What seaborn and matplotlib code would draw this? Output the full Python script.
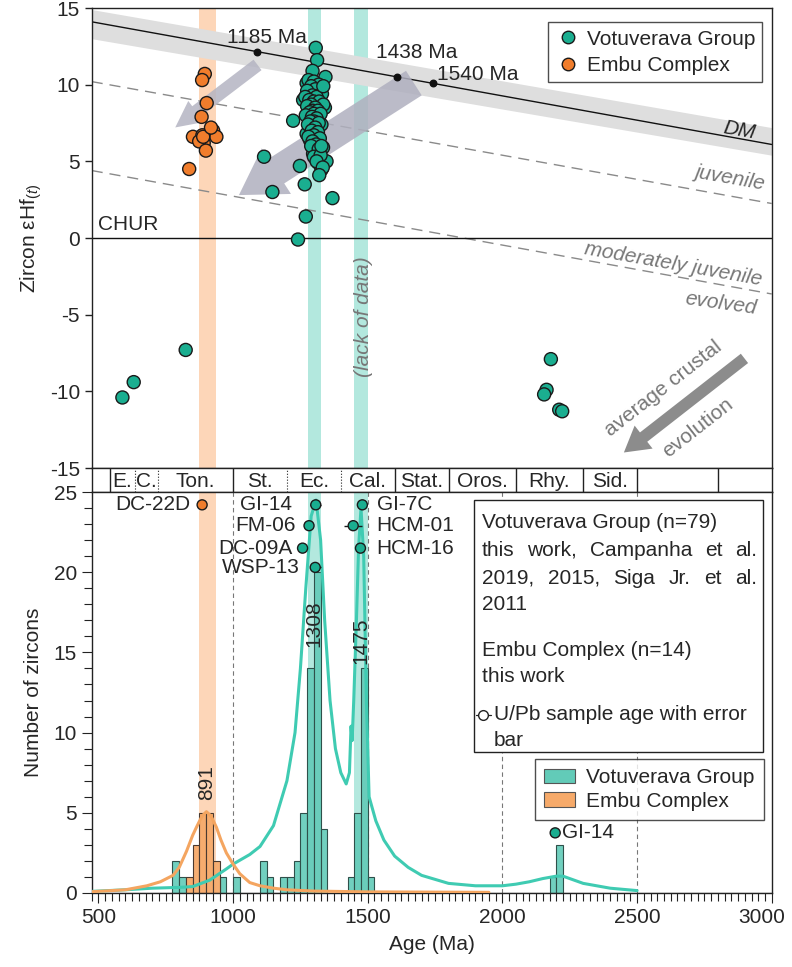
import numpy as np
import pandas as pd
import matplotlib
matplotlib.use("Agg")
import matplotlib.pyplot as plt
import matplotlib.transforms as mtransforms
import seaborn as sns
from matplotlib.patches import Patch, Rectangle
from matplotlib.lines import Line2D
from matplotlib.ticker import MultipleLocator

sns.set_theme(style="ticks")
plt.rcParams["font.family"] = ["Liberation Sans", "DejaVu Sans"]
plt.rcParams["mathtext.fontset"] = "custom"
plt.rcParams["mathtext.rm"] = "Liberation Sans"
plt.rcParams["mathtext.it"] = "Liberation Sans:italic"
plt.rcParams["axes.unicode_minus"] = False
FS = 15

# colours
TEAL = "#1aae90"
ORANGE = "#f07d2c"
TEAL_BAR = "#62cbb8"
ORANGE_BAR = "#f6aa6a"
TEAL_LINE = "#3fcbb2"
ORANGE_LINE = "#f4a560"
TEAL_BAND = "#b3e8de"
ORANGE_BAND = "#fdd6b8"
GREY_TXT = "#777777"

# ---- top panel data: zircon eHf(t) vs age ----
vg_age = [1307, 1312, 1295, 1343, 1273, 1322, 1285, 1260, 1341, 1310,
          1223, 1280, 1297, 1328, 1273, 1285, 1334, 1297, 1316, 1347,
          1328, 1248, 1115, 1266, 1146, 1369, 1270, 1241,
          1280, 1300, 1318, 1290, 1305, 1275, 1330, 1295, 1310, 1268,
          1283, 1300, 1320, 1290, 1335, 1275, 1305, 1295, 1315, 1285,
          1300, 1325, 1270, 1293, 1310, 1300, 1287, 1318, 1278, 1305,
          1292, 1315, 1300, 1280, 1322, 1295, 1308, 1290, 1318, 1300,
          1325, 1310, 1333, 1320, 1335, 1328,
          589, 631, 824, 2180, 2164, 2155, 2211, 2222]
vg_ehf = [12.4, 11.6, 10.9, 10.5, 10.1, 9.6, 9.5, 9.0, 8.5, 8.8,
          7.65, 8.0, 7.3, 7.4, 6.8, 6.4, 5.9, 5.5, 4.9, 5.0,
          4.45, 4.7, 5.3, 3.5, 3.0, 2.6, 1.4, -0.1,
          10.3, 10.2, 10.0, 9.9, 9.7, 9.6, 9.4, 9.3, 9.2, 9.2,
          9.0, 8.9, 8.9, 8.7, 8.7, 8.6, 8.5, 8.3, 8.3, 8.2,
          8.1, 8.1, 8.0, 7.9, 7.8, 7.6, 7.6, 7.5, 7.4, 7.2,
          7.0, 6.9, 6.7, 6.6, 6.5, 6.3, 6.1, 6.0, 5.8, 5.3,
          5.4, 5.0, 4.6, 4.1, 9.9, 6.0,
          -10.4, -9.4, -7.3, -7.9, -9.9, -10.2, -11.2, -11.3]
embu_age = [895, 885, 902, 883, 926, 938, 851, 886, 891, 874, 899, 837, 889, 918]
embu_ehf = [10.7, 10.3, 8.8, 7.9, 7.0, 6.6, 6.6, 6.7, 6.2, 6.3, 5.7, 4.5, 6.6, 7.2]

# reference evolution lines (end points at 475 and 3000 Ma)
line_x = [475, 3000]
dm_y = [14.1, 6.1]
dm_lo = [13.0, 5.4]
dm_hi = [14.9, 7.2]
juv_y = [10.2, 2.25]
mod_y = [4.4, -3.65]

tdm_x = [1090, 1609, 1743]
tdm_y = [12.15, 10.5, 10.08]
tdm_lab = ["1185 Ma", "1438 Ma", "1540 Ma"]

# ---- bottom panel data: histogram and probability curves ----
vg_bins = [775, 800, 950, 1000, 1100, 1125, 1175, 1200, 1225, 1250,
           1275, 1300, 1325, 1425, 1450, 1475, 1500, 2175, 2200]
vg_counts = [2, 1, 1, 1, 2, 1, 1, 1, 2, 5, 14, 20, 4, 1, 5, 14, 1, 1, 3]
embu_bins = [825, 850, 875, 900, 925]
embu_counts = [1, 3, 5, 5, 2]

vg_curve_x = [475, 600, 700, 800, 850, 913, 975, 1000, 1062, 1100, 1150, 1200, 1230,
              1250, 1270, 1290, 1308, 1325, 1340, 1360, 1380, 1400, 1420, 1432,
              1438, 1442, 1448, 1458, 1466, 1475, 1485, 1495, 1505, 1530, 1560,
              1600, 1650, 1700, 1800, 1900, 2000, 2050, 2100, 2150, 2200, 2225,
              2250, 2300, 2400, 2500]
vg_curve_y = [0.1, 0.2, 0.3, 0.35, 0.4, 0.8, 1.5, 1.8, 2.4, 2.9, 4.2, 7.0, 10.0,
              14.0, 19.0, 23.5, 24.5, 22.0, 17.0, 12.0, 9.0, 7.5, 6.8, 7.5,
              10.4, 9.5, 12.0, 17.0, 21.5, 24.0, 21.0, 12.0, 6.0, 4.5, 3.3,
              2.3, 1.6, 1.1, 0.6, 0.45, 0.45, 0.55, 0.7, 0.9, 1.05, 1.05,
              0.9, 0.6, 0.3, 0.15]
embu_curve_x = [475, 600, 680, 730, 777, 800, 827, 850, 864, 885, 901, 918, 938,
                955, 975, 1000, 1025, 1062, 1100, 1150, 1200, 1300, 1500, 1950]
embu_curve_y = [0.08, 0.2, 0.45, 0.7, 1.1, 1.6, 2.6, 3.6, 4.1, 4.8, 5.07, 4.8,
                4.1, 3.3, 2.5, 1.8, 1.2, 0.65, 0.45, 0.3, 0.2, 0.12, 0.07, 0.04]

peak_age = [901, 1300, 1474]
peak_y = [6.9, 16.8, 15.7]
peak_lab = ["891", "1308", "1475"]

# U/Pb sample ages
samp_name = ["DC-22D", "GI-14", "FM-06", "DC-09A", "WSP-13",
             "GI-7C", "HCM-01", "HCM-16", "GI-14"]
samp_unit = ["Embu Complex"] + ["Votuverava Group"] * 8
samp_age = [885, 1307, 1282, 1258, 1305, 1480, 1446, 1473, 2196]
samp_err = [5, 20, 6, 6, 20, 6, 33, 6, 6]
samp_y = [24.2, 24.2, 22.9, 21.5, 20.3, 24.2, 22.9, 21.5, 3.75]
samp_lab_x = [840, 1218, 1233, 1222, 1248, 1533, 1533, 1533, 2222]
samp_lab_ha = ["right"] * 5 + ["left"] * 4

# geological time scale strip
gts_bounds = [542, 635, 720, 1000, 1200, 1400, 1600, 1800, 2050, 2300, 2500, 2800]
gts_solid = [True, False, False, True, False, False, True, True, True, True, True, True]
gts_names = ["E.", "C.", "Ton.", "St.", "Ec.", "Cal.", "Stat.", "Oros.", "Rhy.", "Sid."]

stripes = [(873, 935, ORANGE_BAND), (1279, 1328, TEAL_BAND), (1449, 1501, TEAL_BAND)]

XMIN, XMAX = 475, 3000
fig = plt.figure(figsize=(7.92, 9.67), dpi=100)
L, W = 91.7 / 792, 680 / 792
ax1 = fig.add_axes([L, 1 - 468 / 967, W, 460 / 967])
axt = fig.add_axes([L, 1 - 492 / 967, W, 24 / 967])
ax2 = fig.add_axes([L, 1 - 893 / 967, W, 401 / 967])

for ax in (ax1, axt, ax2):
    ax.set_xlim(XMIN, XMAX)
    for s in ax.spines.values():
        s.set_color("#222222")
        s.set_linewidth(1.0)

# ================= top panel =================
for a, b, c in stripes:
    ax1.axvspan(a, b, color=c, lw=0, zorder=0)
ax1.fill_between(line_x, dm_lo, dm_hi, color="#dedede", lw=0, zorder=1)
ax1.plot(line_x, dm_y, color="#111111", lw=1.0, zorder=2)
ax1.plot(line_x, juv_y, color="#8a8a8a", lw=1.0, dashes=(8, 5), zorder=2)
ax1.plot(line_x, mod_y, color="#8a8a8a", lw=1.0, dashes=(8, 5), zorder=2)
ax1.axhline(0, color="#111111", lw=1.0, zorder=2)

# crustal evolution arrows
ax1.annotate("", xy=(777, 7.1), xytext=(1099, 11.4),
             arrowprops=dict(arrowstyle="simple,head_length=1.9,head_width=1.9,tail_width=0.95",
                             mutation_scale=10, color="#b4b4c2", alpha=0.85, lw=0), zorder=3)
ax1.annotate("", xy=(1013, 2.7), xytext=(1680, 10.2),
             arrowprops=dict(arrowstyle="simple,head_length=3.2,head_width=3.9,tail_width=2.1",
                             mutation_scale=10, color="#b0b0bf", alpha=0.85, lw=0), zorder=3)
ax1.annotate("", xy=(2443, -14.1), xytext=(2907, -7.74),
             arrowprops=dict(arrowstyle="simple,head_length=1.8,head_width=2.1,tail_width=0.85",
                             mutation_scale=10, color="#8c8c8c", lw=0), zorder=3)

top = pd.DataFrame({
    "age": vg_age + embu_age,
    "ehf": vg_ehf + embu_ehf,
    "unit": ["Votuverava Group"] * len(vg_age) + ["Embu Complex"] * len(embu_age),
})
sns.scatterplot(data=top, x="age", y="ehf", hue="unit",
                palette={"Votuverava Group": TEAL, "Embu Complex": ORANGE},
                s=88, edgecolor="#1a1a1a", linewidth=1.0, legend=False,
                ax=ax1, zorder=5)

ax1.scatter(tdm_x, tdm_y, s=22, color="#111111", zorder=6)
for x, y, t, dx, dy in zip(tdm_x, tdm_y, tdm_lab, [35, 73, 166], [0.95, 1.6, 0.6]):
    ax1.text(x + dx, y + dy, t, fontsize=FS, ha="center", va="center", zorder=6)

ax1.text(500, 0.85, "CHUR", fontsize=FS, ha="left", va="center")
ax1.text(2880, 7.0, "DM", fontsize=FS, style="italic", rotation=-10, ha="center", va="center")
ax1.text(2846, 3.9, "juvenile", fontsize=FS, color=GREY_TXT, style="italic",
         rotation=-10, ha="center", va="center")
ax1.text(2636, -1.7, "moderately juvenile", fontsize=FS, color=GREY_TXT, style="italic",
         rotation=-10, ha="center", va="center")
ax1.text(2811, -4.3, "evolved", fontsize=FS, color=GREY_TXT, style="italic",
         rotation=-8, ha="center", va="center")
ax1.text(1485, -5.1, "(lack of data)", fontsize=FS, color=GREY_TXT, style="italic",
         rotation=90, ha="center", va="center")
ax1.text(2599, -9.8, "average crustal", fontsize=FS, color=GREY_TXT,
         rotation=38, ha="center", va="center", rotation_mode="anchor")
ax1.text(2726, -12.4, "evolution", fontsize=FS, color=GREY_TXT,
         rotation=38, ha="center", va="center", rotation_mode="anchor")

ax1.set_ylim(-15, 15)
ax1.set_yticks([-15, -10, -5, 0, 5, 10, 15])
ax1.set_xticks([])
ax1.set_xlabel("")
ax1.set_ylabel(r"Zircon εHf$_{(t)}$", fontsize=FS, labelpad=4)
ax1.tick_params(axis="y", labelsize=FS, direction="out", length=5, width=1, color="#222222")

h_top = [Line2D([], [], ls="", marker="o", ms=9, mfc=TEAL, mec="#1a1a1a", mew=1),
         Line2D([], [], ls="", marker="o", ms=9, mfc=ORANGE, mec="#1a1a1a", mew=1)]
lg1 = ax1.legend(h_top, ["Votuverava Group", "Embu Complex"], loc="upper right",
                 bbox_to_anchor=(0.986, 0.969), fontsize=FS, frameon=True, fancybox=False,
                 edgecolor="#222222", handletextpad=0.3, borderpad=0.35, labelspacing=0.35,
                 handlelength=1.2, borderaxespad=0)
lg1.get_frame().set_linewidth(1.0)

# ================= time scale strip =================
axt.set_ylim(0, 1)
axt.set_xticks([])
axt.set_yticks([])
for b, solid in zip(gts_bounds, gts_solid):
    axt.axvline(b, color="#222222", lw=1.0 if solid else 0.8, ls="-" if solid else ":")
for i, name in enumerate(gts_names):
    mid = (gts_bounds[i] + gts_bounds[i + 1]) / 2
    axt.text(mid, 0.45, name, fontsize=FS, ha="center", va="center")

# ================= bottom panel =================
for a, b, c in stripes:
    ax2.axvspan(a, b, color=c, lw=0, zorder=0)
for x in [1000, 1500, 2000, 2500]:
    ax2.axvline(x, color="#777777", lw=0.8, dashes=(4, 3), zorder=0.5)

vg_hist = pd.DataFrame({"age": [b + 12.5 for b in vg_bins], "n": vg_counts})
embu_hist = pd.DataFrame({"age": [b + 12.5 for b in embu_bins], "n": embu_counts})
sns.histplot(data=vg_hist, x="age", weights="n", binwidth=25, binrange=(475, 3000),
             ax=ax2, color=TEAL_BAR, alpha=0.9, edgecolor="#2f504a", linewidth=0.8)
sns.histplot(data=embu_hist, x="age", weights="n", binwidth=25, binrange=(475, 3000),
             ax=ax2, color=ORANGE_BAR, alpha=0.95, edgecolor="#4a3a30", linewidth=0.8)
sns.lineplot(x=vg_curve_x, y=vg_curve_y, ax=ax2, color=TEAL_LINE, lw=2.2, zorder=3)
sns.lineplot(x=embu_curve_x, y=embu_curve_y, ax=ax2, color=ORANGE_LINE, lw=2.2, zorder=3.2)

for x, y, t in zip(peak_age, peak_y, peak_lab):
    ax2.text(x, y, t, fontsize=FS, rotation=90, ha="center", va="center", zorder=4)

samp = pd.DataFrame({"age": samp_age, "y": samp_y, "unit": samp_unit})
ax2.errorbar(samp_age, samp_y, xerr=samp_err, fmt="none", ecolor="#1a1a1a",
             elinewidth=1.0, capsize=0, zorder=5)
sns.scatterplot(data=samp, x="age", y="y", hue="unit",
                palette={"Votuverava Group": TEAL, "Embu Complex": ORANGE},
                s=52, edgecolor="#1a1a1a", linewidth=1.0, legend=False, ax=ax2, zorder=6)
for n, x, y, ha in zip(samp_name, samp_lab_x, samp_y, samp_lab_ha):
    ax2.text(x, y, n, fontsize=FS, ha=ha, va="center", zorder=6)

ax2.set_xlim(XMIN, XMAX)
ax2.set_ylim(0, 25)
ax2.yaxis.set_major_locator(MultipleLocator(5))
ax2.yaxis.set_minor_locator(MultipleLocator(1))
ax2.set_xticks([500, 1000, 1500, 2000, 2500, 3000])
ax2.xaxis.set_minor_locator(MultipleLocator(25))
ax2.tick_params(which="both", labelsize=FS, direction="out", width=0.8, color="#222222")
ax2.tick_params(which="major", length=7)
ax2.tick_params(which="minor", length=6)
ax2.set_xlabel("Age (Ma)", fontsize=FS, labelpad=6)
ax2.set_ylabel("Number of zircons", fontsize=FS, labelpad=8)
# keep the last tick label inside the figure
last = ax2.get_xticklabels()[-1]
last.set_transform(last.get_transform() + mtransforms.ScaledTranslation(-7 / 72, 0, fig.dpi_scale_trans))

# text box with sources
tb = ax2.transAxes
ax2.add_patch(Rectangle((0.562, 0.352), 0.425, 0.628, transform=tb, facecolor="white",
                        edgecolor="#222222", lw=1.0, zorder=7))


def ax_x(px):
    return (px - 91.7) / 680


def ax_y(py):
    return (893 - py) / 401


def justified(words, x0, x1, py):
    r = fig.canvas.get_renderer()
    arts = [ax2.text(0, ax_y(py), w, transform=tb, fontsize=FS, va="center", zorder=8)
            for w in words]
    widths = [t.get_window_extent(r).width for t in arts]
    gap = (x1 - x0 - sum(widths)) / (len(words) - 1)
    x = x0
    for t, w in zip(arts, widths):
        t.set_x(ax_x(x))
        x += w + gap


ax2.text(ax_x(482), ax_y(523), "Votuverava Group (n=79)", transform=tb, fontsize=FS, va="center", zorder=8)
justified(["this", "work,", "Campanha", "et", "al."], 482, 757, 550)
justified(["2019,", "2015,", "Siga", "Jr.", "et", "al."], 482, 757, 578)
ax2.text(ax_x(482), ax_y(604), "2011", transform=tb, fontsize=FS, va="center", zorder=8)
ax2.text(ax_x(482), ax_y(650), "Embu Complex (n=14)", transform=tb, fontsize=FS, va="center", zorder=8)
ax2.text(ax_x(482), ax_y(677), "this work", transform=tb, fontsize=FS, va="center", zorder=8)
ax2.plot([ax_x(476), ax_x(491)], [ax_y(715)] * 2, transform=tb, color="#222222", lw=0.9, zorder=8)
ax2.plot([ax_x(483.5)], [ax_y(715)], transform=tb, marker="o", ms=7, mfc="white",
         mec="#222222", mew=1.0, zorder=9)
ax2.text(ax_x(494), ax_y(715), "U/Pb sample age with error", transform=tb, fontsize=FS,
         va="center", zorder=8)
ax2.text(ax_x(494), ax_y(740), "bar", transform=tb, fontsize=FS, va="center", zorder=8)

h_bot = [Patch(facecolor=TEAL_BAR, edgecolor="#555555", lw=0.8),
         Patch(facecolor=ORANGE_BAR, edgecolor="#555555", lw=0.8)]
lg2 = ax2.legend(h_bot, ["Votuverava Group", "Embu Complex"], loc="upper right",
                 bbox_to_anchor=(0.988, 0.334), fontsize=FS, frameon=True, fancybox=False,
                 edgecolor="#222222", handletextpad=0.5, borderpad=0.45, labelspacing=0.2,
                 handlelength=1.5, handleheight=0.7, borderaxespad=0)
lg2.get_frame().set_linewidth(1.0)
lg2.set_zorder(9)

fig.savefig("out.png", dpi=100)
